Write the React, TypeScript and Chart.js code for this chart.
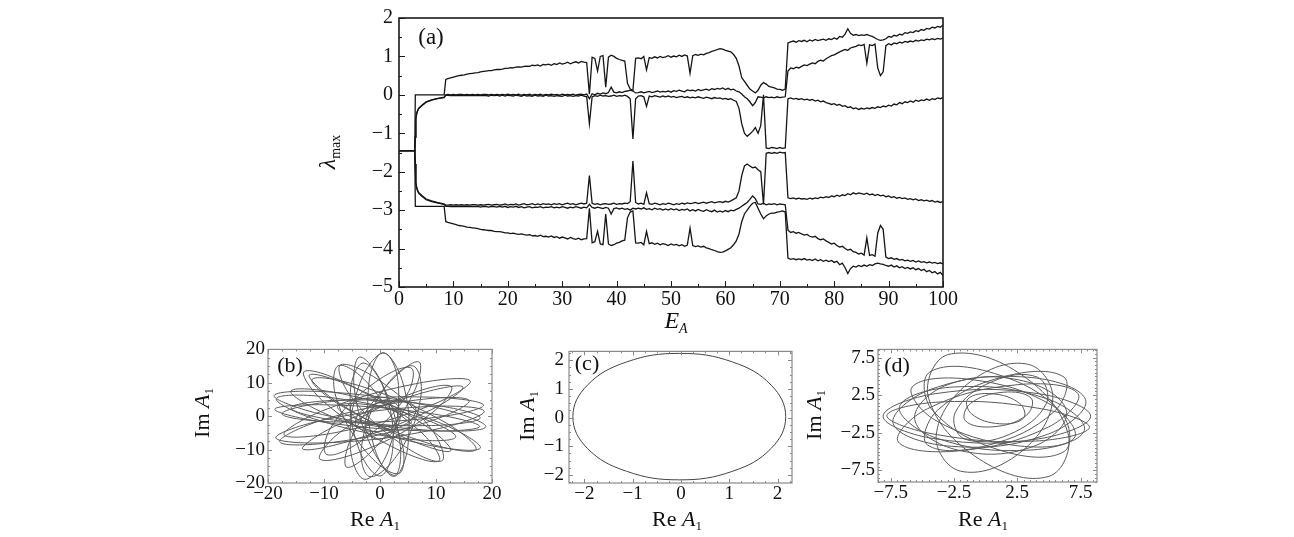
import React, { useEffect, useRef } from "react";
import { Chart, registerables } from "chart.js";
Chart.register(...registerables);

const SERIF = '"Liberation Serif", "DejaVu Serif", serif';

// ---------- (a) Lyapunov spectrum ----------
const EA = [
  0, 2.9, 3, 3.1, 3.3, 3.6, 4.2, 5, 6, 7, 8.3, 8.6,
  9, 9.5, 10, 10.5, 11, 11.5, 12, 12.5, 13, 13.5,
  14, 14.5, 15, 15.5, 16, 16.5, 17, 17.5, 18, 18.5,
  19, 19.5, 20, 20.5, 21, 21.5, 22, 22.5, 23, 23.5,
  24, 24.5, 25, 25.5, 26, 26.5, 27, 27.5, 28, 28.5,
  29, 29.5, 30, 30.5, 31, 31.5, 32, 32.5, 33, 33.5,
  34, 34.5, 35, 35.5, 36, 36.5, 37, 37.5, 38, 38.5,
  39, 39.5, 40, 40.5, 41, 41.5, 42, 42.5, 43, 43.5,
  44, 44.5, 45, 45.5, 46, 46.5, 47, 47.5, 48, 48.5,
  49, 49.5, 50, 50.5, 51, 51.5, 52, 52.5, 53, 53.5,
  54, 54.5, 55, 55.5, 56, 56.5, 57, 57.5, 58, 58.5,
  59, 59.5, 60, 60.5, 61, 61.5, 62, 62.5, 63, 63.5,
  64, 64.5, 65, 65.5, 66, 66.5, 67, 67.5, 68, 68.5,
  69, 69.5, 70, 70.5, 71, 71.5, 72, 72.5, 73, 73.5,
  74, 74.5, 75, 75.5, 76, 76.5, 77, 77.5, 78, 78.5,
  79, 79.5, 80, 80.5, 81, 81.5, 82, 82.5, 83, 83.5,
  84, 84.5, 85, 85.5, 86, 86.5, 87, 87.5, 88, 88.5,
  89, 89.5, 90, 90.5, 91, 91.5, 92, 92.5, 93, 93.5,
  94, 94.5, 95, 95.5, 96, 96.5, 97, 97.5, 98, 98.5,
  99, 99.5, 100,
];

const LAMBDA1 = [
  -1.45, -1.45, 0, 0, 0, 0, 0, 0, 0, 0, 0, 0.4,
  0.42, 0.44, 0.46, 0.48, 0.5, 0.51, 0.52, 0.54, 0.55, 0.56,
  0.57, 0.58, 0.6, 0.61, 0.62, 0.63, 0.63, 0.65, 0.66, 0.66,
  0.67, 0.69, 0.69, 0.71, 0.7, 0.72, 0.73, 0.72, 0.74, 0.75,
  0.74, 0.77, 0.76, 0.78, 0.75, 0.79, 0.78, 0.8, 0.77, 0.81,
  0.79, 0.83, 0.8, 0.82, 0.85, 0.81, 0.84, 0.86, 0.83, 0.87,
  0.85, 0.84, 0.02, 0.98, 0.95, 0.62, 1.0, 1.02, 0.2, 0.98,
  1.03, 1.0, 0.95, 0.92, 0.9, 0.88, 0.3, 0.15, 0.12, 0.95,
  0.96, 0.94, 1.0, 0.65, 0.97, 0.95, 0.99, 0.96, 1.0, 0.97,
  0.99, 1.02, 0.98, 1.01, 0.99, 1.03, 1.0, 1.04, 1.01, 0.56,
  1.02, 1.05, 1.03, 1.06, 1.04, 1.08, 1.1, 1.13, 1.15, 1.18,
  1.2, 1.19, 1.16, 1.14, 1.12, 1.05, 0.95, 0.75, 0.45, 0.35,
  0.25, 0.15, 0.1, 0.05, 0.12, 0.25, 0.32, 0.28, 0.22, 0.2,
  0.18, 0.15, 0.14, 0.12, 0.15, 1.35, 1.38, 1.4, 1.37, 1.41,
  1.39, 1.42, 1.38, 1.43, 1.4, 1.44, 1.41, 1.43, 1.45, 1.42,
  1.46, 1.44, 1.48, 1.45, 1.52, 1.5, 1.58, 1.72, 1.6, 1.55,
  1.57, 1.54, 1.56, 1.55, 1.57, 1.54, 1.52, 1.48, 1.44, 1.42,
  1.43, 1.46, 1.52, 1.5, 1.55, 1.53, 1.58, 1.56, 1.62, 1.6,
  1.64, 1.62, 1.67, 1.65, 1.7, 1.68, 1.73, 1.71, 1.76, 1.74,
  1.78, 1.76, 1.82,
];

const LAMBDA2 = [
  -1.45, -1.45, -1.1, -0.6, -0.45, -0.35, -0.27, -0.18, -0.13, -0.1, -0.06, 0.0,
  0.01, 0.0, 0.01, 0.0, 0.01, 0.01, 0.0, 0.01, 0.0, 0.01,
  0.0, 0.01, 0.0, 0.01, 0.01, 0.0, 0.01, 0.0, 0.01, 0.0,
  0.01, 0.0, 0.02, 0.0, 0.01, 0.0, 0.02, -0.01, 0.01, 0.0,
  0.02, -0.01, 0.01, 0.0, 0.02, -0.01, 0.01, 0.0, 0.02, 0.0,
  0.01, -0.01, 0.02, 0.0, 0.01, 0.0, 0.02, -0.01, 0.01, 0.02,
  0.0, 0.02, -0.1, 0.03, 0.0, 0.04, 0.02, 0.05, 0.03, 0.06,
  0.2, 0.07, 0.05, 0.08, 0.06, 0.09, 0.1, 0.12, 0.1, 0.05,
  0.06, 0.08, 0.05, 0.07, 0.09, 0.06, 0.08, 0.1, 0.07, 0.09,
  0.08, 0.1, 0.07, 0.11, 0.09, 0.12, 0.1, 0.08, 0.13, 0.11,
  0.12, 0.1, 0.14, 0.11, 0.13, 0.15, 0.12, 0.16, 0.14, 0.17,
  0.15, 0.18, 0.14, 0.17, 0.13, 0.15, 0.1, 0.08, 0.02, -0.05,
  -0.1, -0.18, -0.28, -0.2, -0.05, -0.06, -0.08, -0.05, -0.07, -0.06,
  -0.08, -0.05, -0.07, -0.06, -0.05, 0.62, 0.7, 0.68, 0.72, 0.7,
  0.74, 0.78, 0.76, 0.8, 0.83, 0.81, 0.87, 0.9, 0.88, 0.94,
  0.98, 1.02, 1.04, 1.08, 1.12, 1.15, 1.18, 1.16, 1.22, 1.24,
  1.26, 1.3, 1.28, 1.31, 0.82, 1.3, 1.28, 1.32, 0.7, 0.5,
  0.6, 1.28, 1.33, 1.3, 1.35, 1.33, 1.37, 1.35, 1.39, 1.37,
  1.4, 1.38, 1.42, 1.4, 1.43, 1.41, 1.45, 1.43, 1.46, 1.44,
  1.47, 1.45, 1.48,
];

const LAMBDA3 = [
  -1.45, -1.45, -1.1, -0.62, -0.46, -0.36, -0.28, -0.19, -0.14, -0.1, -0.07, -0.01,
  -0.01, -0.02, -0.01, -0.02, -0.01, -0.02, -0.01, -0.02, -0.01, -0.02,
  -0.02, -0.01, -0.02, -0.01, -0.02, -0.03, -0.01, -0.02, -0.01, -0.03,
  -0.01, -0.03, -0.01, -0.02, -0.03, -0.01, -0.02, -0.04, -0.01, -0.03,
  -0.02, -0.04, -0.01, -0.03, -0.02, -0.04, -0.01, -0.03, -0.02, -0.04,
  -0.02, -0.03, -0.04, -0.01, -0.03, -0.02, -0.04, -0.02, -0.03, -0.01,
  -0.03, -0.05, -0.75, -0.05, -0.02, -0.04, -0.01, -0.03, -0.02, -0.04,
  -0.03, -0.01, -0.04, -0.02, -0.03, -0.01, -0.04, -0.1, -1.15, -0.1,
  -0.03, -0.02, -0.05, -0.3, -0.03, -0.05, -0.02, -0.04, -0.06, -0.03,
  -0.05, -0.03, -0.06, -0.04, -0.07, -0.05, -0.04, -0.07, -0.05, -0.08,
  -0.06, -0.08, -0.05, -0.07, -0.09, -0.06, -0.08, -0.1, -0.07, -0.09,
  -0.08, -0.11, -0.09, -0.12, -0.1, -0.14, -0.17, -0.35, -0.75, -1.0,
  -1.08, -1.02, -0.95, -0.85, -1.0, -0.8, 0.0, -1.38, -1.4, -1.37,
  -1.38, -1.4, -1.37, -1.39, -1.38, -0.1, -0.08, -0.11, -0.09, -0.12,
  -0.1, -0.13, -0.11, -0.14, -0.12, -0.16, -0.14, -0.18, -0.16, -0.2,
  -0.22, -0.25, -0.23, -0.27, -0.25, -0.3, -0.28, -0.33, -0.31, -0.36,
  -0.34, -0.38, -0.35, -0.37, -0.34, -0.36, -0.33, -0.35, -0.31, -0.33,
  -0.29, -0.31, -0.27, -0.29, -0.24, -0.26, -0.2, -0.23, -0.18, -0.2,
  -0.16, -0.19, -0.14, -0.17, -0.13, -0.15, -0.11, -0.14, -0.1, -0.12,
  -0.08, -0.1, -0.07,
];

const LAMBDA4 = [
  -1.45, -1.45, -1.8, -2.28, -2.44, -2.54, -2.62, -2.71, -2.76, -2.8, -2.84, -2.87,
  -2.87, -2.86, -2.87, -2.86, -2.87, -2.86, -2.87, -2.86, -2.87, -2.86,
  -2.86, -2.87, -2.86, -2.87, -2.86, -2.85, -2.87, -2.86, -2.85, -2.87,
  -2.86, -2.84, -2.87, -2.85, -2.86, -2.84, -2.87, -2.85, -2.83, -2.86,
  -2.85, -2.83, -2.86, -2.84, -2.86, -2.83, -2.85, -2.84, -2.86, -2.83,
  -2.85, -2.83, -2.86, -2.84, -2.82, -2.85, -2.83, -2.86, -2.84, -2.82,
  -2.84, -2.82, -2.1, -2.82, -2.85, -2.83, -2.86, -2.84, -2.83, -2.85,
  -2.84, -2.82, -2.85, -2.83, -2.84, -2.82, -2.83, -2.78, -1.72, -2.8,
  -2.84, -2.82, -2.85, -2.55, -2.83, -2.85, -2.82, -2.84, -2.86, -2.83,
  -2.85, -2.82, -2.84, -2.86, -2.83, -2.85, -2.82, -2.84, -2.81, -2.83,
  -2.82, -2.8, -2.83, -2.81, -2.79, -2.82, -2.8, -2.78, -2.81, -2.79,
  -2.78, -2.8, -2.77, -2.79, -2.76, -2.72, -2.68, -2.5, -2.1, -1.85,
  -1.8, -1.85, -1.9, -1.88, -1.95, -2.0, -2.85, -1.52, -1.5, -1.52,
  -1.5, -1.52, -1.49, -1.51, -1.5, -2.68, -2.7, -2.68, -2.71, -2.69,
  -2.71, -2.7, -2.72, -2.69, -2.71, -2.68, -2.7, -2.66, -2.68, -2.65,
  -2.67, -2.63, -2.65, -2.61, -2.64, -2.6, -2.62, -2.57, -2.6, -2.55,
  -2.58, -2.55, -2.57, -2.59, -2.56, -2.6, -2.58, -2.62, -2.59, -2.63,
  -2.61, -2.65, -2.63, -2.67, -2.65, -2.69, -2.67, -2.7, -2.68, -2.72,
  -2.7, -2.73, -2.71, -2.75, -2.73, -2.76, -2.74, -2.77, -2.75, -2.79,
  -2.77, -2.8, -2.78,
];

const LAMBDA5 = [
  -1.45, -1.45, -1.8, -2.3, -2.46, -2.56, -2.64, -2.73, -2.78, -2.81, -2.85, -2.9,
  -2.9, -2.91, -2.9, -2.91, -2.9, -2.91, -2.9, -2.91, -2.9, -2.91,
  -2.91, -2.9, -2.92, -2.9, -2.91, -2.92, -2.9, -2.91, -2.92, -2.9,
  -2.92, -2.9, -2.93, -2.91, -2.92, -2.9, -2.93, -2.91, -2.94, -2.92,
  -2.91, -2.94, -2.92, -2.93, -2.91, -2.94, -2.92, -2.93, -2.91, -2.94,
  -2.92, -2.94, -2.91, -2.93, -2.95, -2.92, -2.94, -2.91, -2.93, -2.95,
  -2.92, -2.94, -2.85, -2.93, -2.95, -2.92, -2.94, -2.96, -2.93, -2.95,
  -3.1, -2.96, -2.94, -2.97, -2.95, -2.98, -2.96, -3.0, -2.95, -2.97,
  -2.95, -2.97, -2.94, -2.98, -2.96, -2.99, -2.95, -2.98, -2.96, -3.0,
  -2.97, -3.0, -2.96, -2.99, -2.97, -3.01, -2.98, -3.0, -2.97, -3.02,
  -2.99, -3.02, -2.98, -3.01, -3.03, -2.99, -3.02, -3.04, -3.0, -3.05,
  -3.02, -3.05, -3.01, -3.04, -3.0, -3.02, -2.98, -2.95, -2.9, -2.85,
  -2.8, -2.72, -2.63, -2.7, -2.84, -2.85, -2.82, -2.86, -2.84, -2.85,
  -2.83, -2.86, -2.84, -2.85, -2.86, -3.52, -3.58, -3.56, -3.6, -3.58,
  -3.62, -3.65, -3.63, -3.68, -3.7, -3.68, -3.74, -3.77, -3.75, -3.8,
  -3.84, -3.88, -3.86, -3.92, -3.96, -3.94, -4.0, -4.04, -4.02, -4.08,
  -4.1, -4.14, -4.12, -4.17, -3.72, -4.18, -4.16, -4.2, -3.6, -3.4,
  -3.5, -4.22, -4.26, -4.24, -4.28, -4.26, -4.3, -4.28, -4.32, -4.3,
  -4.33, -4.31, -4.35, -4.32, -4.36, -4.34, -4.37, -4.35, -4.38, -4.36,
  -4.39, -4.37, -4.4,
];

const LAMBDA6 = [
  -1.45, -1.45, -2.9, -2.9, -2.9, -2.9, -2.9, -2.9, -2.9, -2.9, -2.9, -3.3,
  -3.32, -3.34, -3.36, -3.38, -3.4, -3.41, -3.42, -3.44, -3.45, -3.46,
  -3.47, -3.48, -3.5, -3.51, -3.52, -3.53, -3.53, -3.55, -3.56, -3.56,
  -3.57, -3.59, -3.59, -3.61, -3.6, -3.62, -3.63, -3.62, -3.64, -3.65,
  -3.64, -3.67, -3.66, -3.68, -3.65, -3.69, -3.68, -3.7, -3.67, -3.71,
  -3.69, -3.73, -3.7, -3.72, -3.75, -3.71, -3.74, -3.76, -3.73, -3.77,
  -3.75, -3.74, -2.95, -3.85, -3.82, -3.55, -3.88, -3.9, -3.1, -3.88,
  -3.92, -3.9, -3.86, -3.84, -3.8, -3.78, -3.2, -3.05, -3.02, -3.85,
  -3.86, -3.84, -3.9, -3.55, -3.87, -3.85, -3.89, -3.86, -3.9, -3.87,
  -3.89, -3.92, -3.88, -3.91, -3.89, -3.93, -3.9, -3.94, -3.91, -3.47,
  -3.92, -3.95, -3.93, -3.96, -3.94, -3.98, -4.0, -4.03, -4.05, -4.08,
  -4.1, -4.09, -4.06, -4.02, -3.98, -3.9, -3.8, -3.62, -3.3, -3.1,
  -3.0, -2.9, -2.82, -2.8, -2.95, -3.1, -3.22, -3.15, -3.1, -3.08,
  -3.08, -3.05, -3.04, -3.02, -3.05, -4.25, -4.28, -4.26, -4.29, -4.27,
  -4.29, -4.26, -4.3, -4.28, -4.31, -4.27, -4.32, -4.29, -4.33, -4.3,
  -4.34, -4.31, -4.36, -4.33, -4.42, -4.38, -4.5, -4.65, -4.52, -4.46,
  -4.48, -4.44, -4.47, -4.43, -4.46, -4.42, -4.44, -4.4, -4.38, -4.4,
  -4.41, -4.44, -4.46, -4.43, -4.48, -4.45, -4.5, -4.47, -4.52, -4.49,
  -4.53, -4.5, -4.55, -4.52, -4.57, -4.54, -4.6, -4.57, -4.63, -4.6,
  -4.66, -4.62, -4.7,
];

const A_XTICKS = [0, 10, 20, 30, 40, 50, 60, 70, 80, 90, 100];
const A_XMINOR = [5, 15, 25, 35, 45, 55, 65, 75, 85, 95];
const A_YTICKS = [-5, -4, -3, -2, -1, 0, 1, 2];
const A_YMINOR = [-4.5, -3.5, -2.5, -1.5, -0.5, 0.5, 1.5];

// ---------- (b) trajectory loops (Re A1, Im A1), each a closed loop ----------
const B_LOOP1 = [[18.9, -3.2], [10.3, 2.5], [-8.6, 7.2], [-18.9, 6.2], [-10.3, 0.5], [8.6, -4.2]];
const B_LOOP2 = [[17.9, -9.6], [11.0, -2.2], [-5.9, 6.4], [-15.9, 7.6], [-9.0, 0.2], [7.9, -8.4]];
const B_LOOP3 = [[15.9, 4.7], [6.3, 4.8], [-10.6, -1.3], [-17.9, -7.7], [-8.3, -7.8], [8.6, -1.7]];
const B_LOOP4 = [[18.5, 3.3], [9.3, 5.7], [-8.7, 4.4], [-17.5, 0.7], [-8.3, -1.7], [9.7, -0.4]];
const B_LOOP5 = [[10.5, -13.4], [7.1, -4.4], [-5.0, 9.0], [-13.5, 13.4], [-10.1, 4.4], [2.0, -9.0]];
const B_LOOP6 = [[11.0, -13.4], [9.4, -4.4], [0.4, 10.1], [-7.0, 15.4], [-5.4, 6.4], [3.6, -8.1]];
const B_LOOP7 = [[3.3, -17.2], [3.9, -8.0], [-1.3, 8.2], [-7.3, 15.2], [-7.9, 6.0], [-2.7, -10.2]];
const B_LOOP8 = [[2.5, -18.0], [5.0, -8.6], [4.1, 9.9], [0.5, 19.0], [-2.0, 9.6], [-1.1, -8.9]];
const B_LOOP9 = [[0.7, 18.9], [-3.6, 9.8], [-5.3, -9.2], [-2.7, -18.9], [1.6, -9.8], [3.3, 9.2]];
const B_LOOP10 = [[5.8, 15.1], [0.5, 7.6], [-3.3, -9.0], [-1.8, -18.1], [3.5, -10.6], [7.3, 6.0]];
const B_LOOP11 = [[5.5, 14.5], [-1.25, 9.7], [-8.75, -3.3], [-9.5, -11.5], [-2.75, -6.7], [4.75, 6.3]];
const B_LOOP12 = [[12.7, 8.9], [4.5, 6.0], [-7.2, -4.9], [-10.7, -12.9], [-2.5, -10.0], [9.2, 0.9]];
const B_LOOP13 = [[16.1, 10.6], [6.3, 9.7], [-10.3, 1.6], [-17.1, -5.6], [-7.3, -4.7], [9.3, 3.4]];
const B_LOOP14 = [[18.6, 1.5], [8.6, 2.9], [-10.0, -1.1], [-18.6, -6.5], [-8.6, -7.9], [10.0, -3.9]];
const B_LOOP15 = [[17.1, -10.1], [11.8, -2.0], [-2.7, 8.6], [-12.1, 11.1], [-6.8, 3.0], [7.7, -7.6]];
const B_LOOP16 = [[13.5, -6.3], [6.7, -0.15], [-9.3, 5.7], [-18.5, 5.3], [-11.7, -0.85], [4.3, -6.7]];
const B_LOOP17 = [[17.9, -0.5], [9.7, 3.3], [-7.2, 4.8], [-15.9, 2.5], [-7.7, -1.3], [9.2, -2.8]];
const B_LOOP18 = [[6.2, 3.0], [1.87, 4.5], [-3.33, 1.5], [-4.2, -3.0], [0.13, -4.5], [5.33, -1.5]];
const B_LOOP19 = [[2.8, -2.2], [2.87, 1.71], [-0.97, 4.93], [-4.8, 4.2], [-4.87, 0.29], [-1.03, -2.93]];
const B_LOOP20 = [[1.5, 4.9], [-1.5, 2.4], [-2.6, -3.5], [-0.5, -6.9], [2.5, -4.4], [3.6, 1.5]];
const B_LOOP21 = [[5.6, -1.9], [3.0, 1.3], [-3.6, 3.7], [-7.6, 2.9], [-5.0, -0.3], [1.6, -2.7]];
const B_LOOP22 = [[2.6, -17.7], [3.6, -8.4], [0.5, 9.3], [-3.6, 17.7], [-4.6, 8.4], [-1.5, -9.3]];
const B_LOOP23 = [[6.9, 16.3], [1.3, 9.4], [-5.1, -6.4], [-5.9, -15.3], [-0.3, -8.4], [6.1, 7.4]];
const B_LOOP24 = [[17.8, -3.1], [9.0, 0.8], [-9.3, 3.4], [-18.8, 2.1], [-10.0, -1.8], [8.3, -4.4]];
const B_LOOP25 = [[14.8, 8.8], [6.2, 6.3], [-8.1, -3.0], [-13.8, -9.8], [-5.2, -7.3], [9.1, 1.9]];
const B_LOOP26 = [[12.6, -10.4], [8.1, -2.8], [-4.6, 8.6], [-12.6, 12.4], [-8.1, 4.8], [4.6, -6.6]];
const B_LOOP27 = [[-3.0, 15.9], [-5.3, 7.2], [-3.8, -9.7], [0.0, -17.9], [2.3, -9.2], [0.8, 7.7]];
const B_LOOPS = [B_LOOP1, B_LOOP2, B_LOOP3, B_LOOP4, B_LOOP5, B_LOOP6, B_LOOP7, B_LOOP8, B_LOOP9, B_LOOP10,
  B_LOOP11, B_LOOP12, B_LOOP13, B_LOOP14, B_LOOP15, B_LOOP16, B_LOOP17, B_LOOP18, B_LOOP19, B_LOOP20, B_LOOP21,
  B_LOOP22, B_LOOP23, B_LOOP24, B_LOOP25, B_LOOP26, B_LOOP27];
const B_TICKS = [-20, -10, 0, 10, 20];

// ---------- (c) limit cycle ----------
const C_LOOP = [[2.17, 0.03], [1.87, 1.13], [1.07, 1.94], [-0.03, 2.24], [-1.13, 1.94], [-1.94, 1.13],
  [-2.24, 0.03], [-1.94, -1.07], [-1.13, -1.87], [-0.03, -2.17], [1.07, -1.87], [1.87, -1.07]];
const C_TICKS = [-2, -1, 0, 1, 2];

// ---------- (d) trajectory loops ----------
const D_LOOP1 = [[8.3, -0.3], [4.2, 2.7], [-4.0, 2.7], [-8.1, -0.3], [-4.0, -3.3], [4.2, -3.3]];
const D_LOOP2 = [[7.9, 1.9], [3.3, 4.9], [-4.3, 3.3], [-7.3, -1.3], [-2.7, -4.3], [4.9, -2.7]];
const D_LOOP3 = [[7.8, -2.2], [4.9, 2.0], [-2.5, 3.6], [-6.8, 1.0], [-3.9, -3.2], [3.5, -4.8]];
const D_LOOP4 = [[7.3, 2.7], [2.5, 3.9], [-4.6, 0.7], [-6.9, -3.7], [-2.1, -4.9], [5.0, -1.7]];
const D_LOOP5 = [[7.0, -3.2], [5.2, 1.2], [-1.2, 4.6], [-5.8, 3.6], [-4.0, -0.8], [2.4, -4.2]];
const D_LOOP6 = [[6.2, 4.9], [1.5, 5.0], [-3.8, 0.5], [-4.6, -4.1], [0.1, -4.2], [5.4, 0.3]];
const D_LOOP7 = [[5.0, -8.3], [6.5, -2.5], [2.5, 5.6], [-3.0, 7.9], [-4.5, 2.1], [-0.5, -6.0]];
const D_LOOP8 = [[3.4, 6.6], [-1.2, 4.3], [-3.9, -2.8], [-2.0, -7.6], [2.6, -5.3], [5.3, 1.8]];
const D_LOOP9 = [[6.2, -5.0], [6.0, 0.1], [0.7, 5.4], [-4.4, 5.6], [-4.2, 0.5], [1.1, -4.8]];
const D_LOOP10 = [[6.4, 0.3], [3.0, 4.4], [-3.0, 3.9], [-5.6, -0.7], [-2.2, -4.8], [3.8, -4.3]];
const D_LOOP11 = [[8.2, -1.8], [4.4, 0.7], [-3.6, 1.6], [-7.8, -0.2], [-4.0, -2.7], [3.9, -3.6]];
const D_LOOP12 = [[3.6, 2.1], [1.4, 2.9], [-1.2, 1.4], [-1.6, -0.9], [0.6, -1.7], [3.2, -0.2]];
const D_LOOP13 = [[3.0, -0.55], [2.7, 1.4], [0.5, 2.7], [-1.4, 2.0], [-1.1, 0.0], [1.1, -1.3]];
const D_LOOP14 = [[4.1, 4.9], [0.5, 4.3], [-2.4, 0.2], [-1.7, -3.3], [1.9, -2.7], [4.8, 1.4]];
const D_LOOPS = [D_LOOP1, D_LOOP2, D_LOOP3, D_LOOP4, D_LOOP5, D_LOOP6, D_LOOP7, D_LOOP8, D_LOOP9, D_LOOP10,
  D_LOOP11, D_LOOP12, D_LOOP13, D_LOOP14];
const D_TICKS = [-7.5, -2.5, 2.5, 7.5];

// ---------- helpers ----------
type Rich = { t: string; f: string; dy?: number };

function fmt(v: number | string) {
  const n = Number(v);
  return n < 0 ? "\u2212" + String(Math.abs(n)) : String(n);
}

function steps(a: number, b: number, s: number) {
  const out: number[] = [];
  for (let k = 0; a + k * s <= b + 1e-9; k++) out.push(+(a + k * s).toFixed(4));
  return out;
}

function drawRich(ctx: CanvasRenderingContext2D, parts: Rich[], cx: number, cy: number, rot: boolean) {
  ctx.save();
  ctx.translate(cx, cy);
  if (rot) ctx.rotate(-Math.PI / 2);
  ctx.textBaseline = "middle";
  ctx.textAlign = "left";
  ctx.fillStyle = "#111";
  const widths = parts.map((p) => {
    ctx.font = p.f;
    return ctx.measureText(p.t).width;
  });
  const total = widths.reduce((s, w) => s + w, 0);
  let x = -total / 2;
  parts.forEach((p, i) => {
    ctx.font = p.f;
    ctx.fillText(p.t, x, p.dy || 0);
    x += widths[i];
  });
  ctx.restore();
}

// closes every dataset line into a smooth loop (same mechanism the radar chart uses)
const closedLoopPlugin = {
  id: "closedLoops",
  afterDatasetUpdate(_chart: any, args: any) {
    const line = args.meta && args.meta.dataset;
    if (line) {
      line._loop = true;
      line._fullLoop = true;
      line._segments = undefined;
      line._pointsUpdated = false;
    }
  },
};

type Decor = {
  frameColor: string;
  frameWidth: number;
  tickColor: string;
  xMajor: number[];
  xMinor: number[];
  yMajor: number[];
  yMinor: number[];
  majorLen: number;
  minorLen: number;
  allSides: boolean;
  panel: { text: string; x: number; y: number; font: string };
  titles: { parts: Rich[]; x: number; y: number; rot: boolean }[];
};

function decorPlugin(d: Decor) {
  return {
    id: "decor",
    afterDraw(chart: any) {
      const ctx: CanvasRenderingContext2D = chart.ctx;
      const { left, right, top, bottom } = chart.chartArea;
      const xs = chart.scales.x;
      const ys = chart.scales.y;
      ctx.save();
      ctx.strokeStyle = d.tickColor;
      ctx.lineWidth = 1;
      const tickX = (vals: number[], len: number) => {
        vals.forEach((v) => {
          const px = Math.round(xs.getPixelForValue(v)) + 0.5;
          ctx.beginPath();
          ctx.moveTo(px, bottom);
          ctx.lineTo(px, bottom - len);
          if (d.allSides) {
            ctx.moveTo(px, top);
            ctx.lineTo(px, top + len);
          }
          ctx.stroke();
        });
      };
      const tickY = (vals: number[], len: number) => {
        vals.forEach((v) => {
          const py = Math.round(ys.getPixelForValue(v)) + 0.5;
          ctx.beginPath();
          ctx.moveTo(left, py);
          ctx.lineTo(left + len, py);
          if (d.allSides) {
            ctx.moveTo(right, py);
            ctx.lineTo(right - len, py);
          }
          ctx.stroke();
        });
      };
      tickX(d.xMajor, d.majorLen);
      tickX(d.xMinor, d.minorLen);
      tickY(d.yMajor, d.majorLen);
      tickY(d.yMinor, d.minorLen);
      ctx.strokeStyle = d.frameColor;
      ctx.lineWidth = d.frameWidth;
      ctx.strokeRect(left, top, right - left, bottom - top);
      ctx.fillStyle = "#111";
      ctx.font = d.panel.font;
      ctx.textAlign = "center";
      ctx.textBaseline = "middle";
      ctx.fillText(d.panel.text, d.panel.x, d.panel.y);
      ctx.restore();
      d.titles.forEach((t) => drawRich(ctx, t.parts, t.x, t.y, t.rot));
    },
  };
}

type AxisSpec = {
  min: number;
  max: number;
  ticks: number[];
  size: number;
  font: number;
  pad: number;
};

function makeScales(x: AxisSpec, y: AxisSpec) {
  const base = (a: AxisSpec, isX: boolean) => ({
    type: "linear",
    min: a.min,
    max: a.max,
    afterBuildTicks: (s: any) => {
      s.ticks = a.ticks.map((v) => ({ value: v }));
    },
    afterFit: (s: any) => {
      if (isX) s.height = a.size;
      else s.width = a.size;
    },
    grid: { display: false, drawTicks: false },
    border: { display: false },
    ticks: {
      font: { family: SERIF, size: a.font },
      color: "#111",
      padding: a.pad,
      autoSkip: false,
      maxRotation: 0,
      minRotation: 0,
      callback: (v: any) => fmt(v),
    },
  });
  return { x: base(x, true), y: base(y, false) };
}

const ReA1: Rich[] = [
  { t: "Re ", f: `22px ${SERIF}` },
  { t: "A", f: `italic 22px ${SERIF}` },
  { t: "1", f: `13px ${SERIF}`, dy: 7 },
];
const ImA1: Rich[] = [
  { t: "Im ", f: `22px ${SERIF}` },
  { t: "A", f: `italic 22px ${SERIF}` },
  { t: "1", f: `13px ${SERIF}`, dy: 7 },
];

function configA() {
  const series = [LAMBDA1, LAMBDA2, LAMBDA3, LAMBDA4, LAMBDA5, LAMBDA6];
  return {
    type: "scatter",
    data: {
      datasets: series.map((ys) => ({
        data: EA.map((x, i) => ({ x, y: ys[i] })),
        showLine: true,
        pointRadius: 0,
        borderColor: "#151515",
        borderWidth: 1.3,
        tension: 0,
        fill: false,
      })),
    },
    options: {
      animation: false,
      responsive: false,
      devicePixelRatio: 1,
      layout: { padding: { top: 16, right: 27, left: 0, bottom: 0 } },
      plugins: { legend: { display: false }, tooltip: { enabled: false } },
      scales: makeScales(
        { min: 0, max: 100, ticks: A_XTICKS, size: 53, font: 20, pad: 1 },
        { min: -5, max: 2, ticks: A_YTICKS, size: 99, font: 20, pad: 6 }
      ),
    },
    plugins: [
      decorPlugin({
        frameColor: "#1a1a1a",
        frameWidth: 1.6,
        tickColor: "#1a1a1a",
        xMajor: A_XTICKS,
        xMinor: A_XMINOR,
        yMajor: A_YTICKS,
        yMinor: A_YMINOR,
        majorLen: 6,
        minorLen: 3,
        allSides: false,
        panel: { text: "(a)", x: 131, y: 38, font: `23px ${SERIF}` },
        titles: [
          {
            parts: [
              { t: "\u03bb", f: `italic 24px ${SERIF}` },
              { t: "max", f: `14px ${SERIF}`, dy: 7 },
            ],
            x: 29,
            y: 152,
            rot: true,
          },
          {
            parts: [
              { t: "E", f: `italic 24px ${SERIF}` },
              { t: "A", f: `italic 14px ${SERIF}`, dy: 7 },
            ],
            x: 376,
            y: 322,
            rot: false,
          },
        ],
      }),
    ],
  };
}

function configSmall(opts: {
  loops: number[][][];
  x: AxisSpec;
  y: AxisSpec;
  top: number;
  xMinorStep: number;
  yMinorStep: number;
  panel: string;
  panelX: number;
  panelY: number;
  reX: number;
  imX: number;
  imY: number;
  color: string;
  tension: number;
}) {
  return {
    type: "scatter",
    data: {
      datasets: opts.loops.map((loop) => ({
        data: loop,
        showLine: true,
        pointRadius: 0,
        borderColor: opts.color,
        borderWidth: 1,
        tension: opts.tension,
        fill: false,
      })),
    },
    options: {
      animation: false,
      responsive: false,
      devicePixelRatio: 1,
      layout: { padding: { top: opts.top, right: 18, left: 0, bottom: 0 } },
      plugins: { legend: { display: false }, tooltip: { enabled: false } },
      scales: makeScales(opts.x, opts.y),
    },
    plugins: [
      closedLoopPlugin,
      decorPlugin({
        frameColor: "#8a8a8a",
        frameWidth: 1.2,
        tickColor: "#8a8a8a",
        xMajor: opts.x.ticks,
        xMinor: steps(Math.ceil(opts.x.min / opts.xMinorStep) * opts.xMinorStep, opts.x.max, opts.xMinorStep),
        yMajor: opts.y.ticks,
        yMinor: steps(Math.ceil(opts.y.min / opts.yMinorStep) * opts.yMinorStep, opts.y.max, opts.yMinorStep),
        majorLen: 4,
        minorLen: 2,
        allSides: true,
        panel: { text: opts.panel, x: opts.panelX, y: opts.panelY, font: `22px ${SERIF}` },
        titles: [
          { parts: ImA1, x: opts.imX, y: opts.imY, rot: true },
          { parts: ReA1, x: opts.reX, y: 185, rot: false },
        ],
      }),
    ],
  };
}

function ChartBox({ make, left, top, width, height }: { make: () => any; left: number; top: number; width: number; height: number }) {
  const ref = useRef<HTMLCanvasElement | null>(null);
  useEffect(() => {
    if (!ref.current) return;
    const chart = new Chart(ref.current, make());
    return () => chart.destroy();
  }, []);
  return (
    <canvas
      ref={ref}
      width={width}
      height={height}
      style={{ position: "absolute", left, top, width, height }}
    />
  );
}

export default function App() {
  return (
    <div
      style={{
        position: "absolute",
        left: 0,
        top: 0,
        width: 1294,
        height: 537,
        background: "#ffffff",
        overflow: "hidden",
      }}
    >
      <ChartBox make={configA} left={300} top={0} width={670} height={340} />
      <ChartBox
        make={() =>
          configSmall({
            loops: B_LOOPS,
            x: { min: -20, max: 20, ticks: B_TICKS, size: 54, font: 19, pad: 0 },
            y: { min: -20, max: 20, ticks: B_TICKS, size: 88, font: 19, pad: 3 },
            top: 11,
            xMinorStep: 2.5,
            yMinorStep: 2.5,
            panel: "(b)",
            panelX: 110,
            panelY: 31,
            reX: 195,
            imX: 23,
            imY: 78,
            color: "#5a5a5a",
            tension: 0.4,
          })
        }
        left={180}
        top={335}
        width={330}
        height={202}
      />
      <ChartBox
        make={() =>
          configSmall({
            loops: [C_LOOP],
            x: { min: -2.32, max: 2.3, ticks: C_TICKS, size: 54, font: 19, pad: 0 },
            y: { min: -2.28, max: 2.31, ticks: C_TICKS, size: 69, font: 19, pad: 5 },
            top: 14,
            xMinorStep: 0.25,
            yMinorStep: 0.25,
            panel: "(c)",
            panelX: 87,
            panelY: 29,
            reX: 177,
            imX: 28,
            imY: 81,
            color: "#444444",
            tension: 0.4,
          })
        }
        left={500}
        top={335}
        width={310}
        height={202}
      />
      <ChartBox
        make={() =>
          configSmall({
            loops: D_LOOPS,
            x: { min: -8.5, max: 8.8, ticks: D_TICKS, size: 55, font: 19, pad: 0 },
            y: { min: -9.05, max: 8.6, ticks: D_TICKS, size: 83, font: 19, pad: 3 },
            top: 13,
            xMinorStep: 0.5,
            yMinorStep: 0.5,
            panel: "(d)",
            panelX: 102,
            panelY: 31,
            reX: 188,
            imX: 20,
            imY: 80,
            color: "#5a5a5a",
            tension: 0.4,
          })
        }
        left={795}
        top={335}
        width={320}
        height={202}
      />
    </div>
  );
}
